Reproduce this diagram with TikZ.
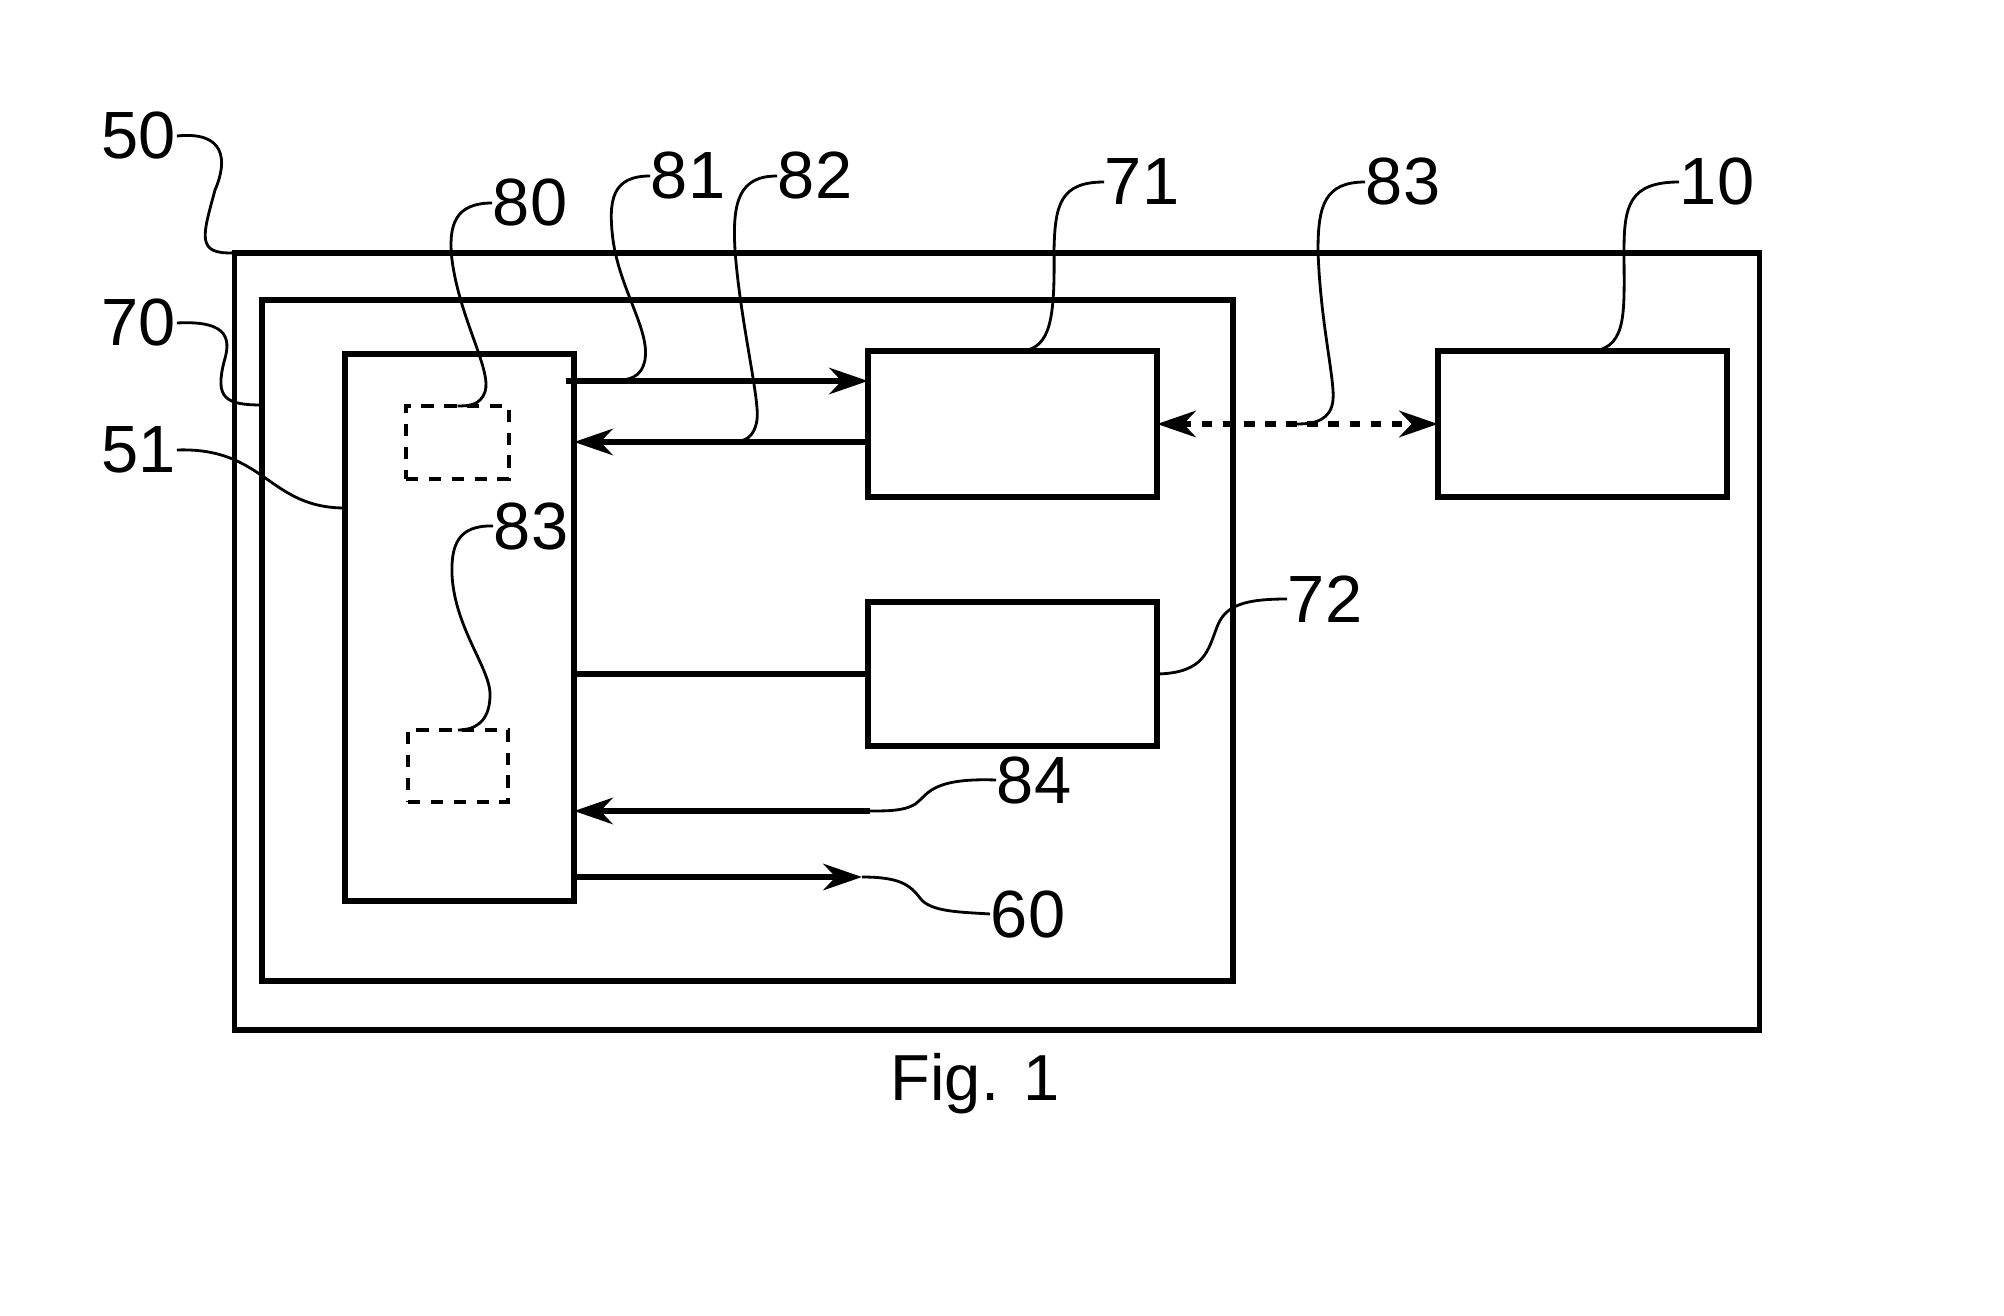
\documentclass[tikz,border=0pt]{standalone}
\usepackage{fontspec}
\setmainfont{Liberation Sans}
\usetikzlibrary{arrows.meta}

\begin{document}
\begin{tikzpicture}[x=0.01cm,y=-0.01cm,
  box/.style={draw,line width=1.6pt,inner sep=0pt,outer sep=0pt},
  dashbox/.style={draw,line width=1.3pt,dash pattern=on 3.5pt off 3pt,inner sep=0pt,outer sep=0pt},
  wire/.style={line width=1.6pt},
  arr/.style={wire,-{Stealth[length=11pt,width=7.5pt,inset=3.5pt]}},
  dotarr/.style={line width=1.8pt,dash pattern=on 3pt off 3pt,
    {Stealth[length=11pt,width=7.5pt,inset=3.5pt]}-{Stealth[length=11pt,width=7.5pt,inset=3.5pt]}},
  lead/.style={line width=0.8pt},
  num/.style={font=\fontsize{19}{21}\selectfont,inner sep=0pt}]
  \useasboundingbox (0,0) rectangle (2004,1316);
  % blocks
  \node[box,minimum width=15.24cm,minimum height=7.77cm] (b50) at (997,641.5) {};
  \node[box,minimum width=9.71cm,minimum height=6.81cm] (b70) at (747.5,640.5) {};
  \node[box,minimum width=2.29cm,minimum height=5.47cm] (b51) at (459.5,627.5) {};
  \node[dashbox,minimum width=1.03cm,minimum height=0.73cm] (b80) at (457.5,442.5) {};
  \node[dashbox,minimum width=1.00cm,minimum height=0.72cm] (b83) at (458,766) {};
  \node[box,minimum width=2.89cm,minimum height=1.46cm] (b71) at (1012.5,424) {};
  \node[box,minimum width=2.89cm,minimum height=1.46cm] (b10) at (1582.5,424) {};
  \node[box,minimum width=2.89cm,minimum height=1.44cm] (b72) at (1012.5,674) {};
  % signal lines
  \coordinate (s81) at (566,381);
  \coordinate (s82) at (868,442);
  \coordinate (s84) at (870,811);
  \coordinate (s60) at (862,877);
  \coordinate (t70) at (262,405);
  \draw[arr] (s81) -- (s81 -| b71.west);
  \draw[arr] (s82) -- (s82 -| b51.east);
  \draw[wire] (b72.west) -- (b72.west -| b51.east);
  \draw[arr] (s84) -- (s84 -| b51.east);
  \draw[arr] (s60 -| b51.east) -- (s60);
  \draw[dotarr] (b71.east) -- (b10.west);
  % reference numerals
  \node[num] (n50) at (139,136) {50};
  \node[num] (n70) at (139,323) {70};
  \node[num] (n51) at (139,450) {51};
  \node[num] (n80) at (530,203) {80};
  \node[num] (n81) at (688,176) {81};
  \node[num] (n82) at (815,176) {82};
  \node[num] (n71) at (1142,182) {71};
  \node[num] (n83t) at (1403,182) {83};
  \node[num] (n10) at (1717,182) {10};
  \node[num] (n83) at (531,526) {83};
  \node[num] (n72) at (1325,599) {72};
  \node[num] (n84) at (1034,780) {84};
  \node[num] (n60) at (1028,914) {60};
  \node[anchor=base,inner sep=0pt,font=\fontsize{18.5}{21}\selectfont] (fig) at (975,1100) {Fig. 1};
  % leader lines
  \draw[lead] (n50.east) .. controls (225,131) and (228,160) .. (215,190)
    .. controls (203,235) and (195,255) .. (b50.north west);
  \draw[lead] (n70.east) .. controls (232,320) and (230,342) .. (224,362)
    .. controls (215,398) and (225,405) .. (t70);
  \draw[lead] (n51.east) .. controls (265,447) and (268,508) .. (b51.west |- 0,508);
  \draw[lead] (n80.west) .. controls (455,203) and (448,225) .. (452,260)
    .. controls (460,320) and (492,370) .. (485,392)
    .. controls (480,405) and (470,406) .. (b80.north);
  \draw[lead] (n81.west) .. controls (612,176) and (608,200) .. (613,240)
    .. controls (620,290) and (650,330) .. (645,360)
    .. controls (641,378) and (630,380) .. (612,381);
  \draw[lead] (n82.west) .. controls (740,176) and (732,200) .. (735,250)
    .. controls (740,320) and (760,400) .. (757,420)
    .. controls (754,438) and (745,442) .. (730,442);
  \draw[lead] (n71.west) .. controls (1060,182) and (1055,205) .. (1054,250)
    .. controls (1055,320) and (1050,346) .. (1024,351);
  \draw[lead] (n83t.west) .. controls (1325,182) and (1318,205) .. (1318,250)
    .. controls (1320,320) and (1335,380) .. (1333,400)
    .. controls (1331,420) and (1315,424) .. (1297,424);
  \draw[lead] (n10.west) .. controls (1630,182) and (1624,205) .. (1624,250)
    .. controls (1624,310) and (1628,346) .. (1594,351);
  \draw[lead] (n83.west) .. controls (458,525) and (451,545) .. (452,575)
    .. controls (455,630) and (492,670) .. (490,697)
    .. controls (489,722) and (475,730) .. (b83.north);
  \draw[lead] (n72.west) .. controls (1245,599) and (1225,605) .. (1217,627)
    .. controls (1208,650) and (1205,673) .. (b72.east);
  \draw[lead] (n84.west) .. controls (940,778) and (930,790) .. (920,800)
    .. controls (910,811) and (890,811) .. (s84);
  \draw[lead] (s60) .. controls (900,877) and (910,885) .. (920,898)
    .. controls (930,912) and (960,912) .. (n60.west);
\end{tikzpicture}
\end{document}
